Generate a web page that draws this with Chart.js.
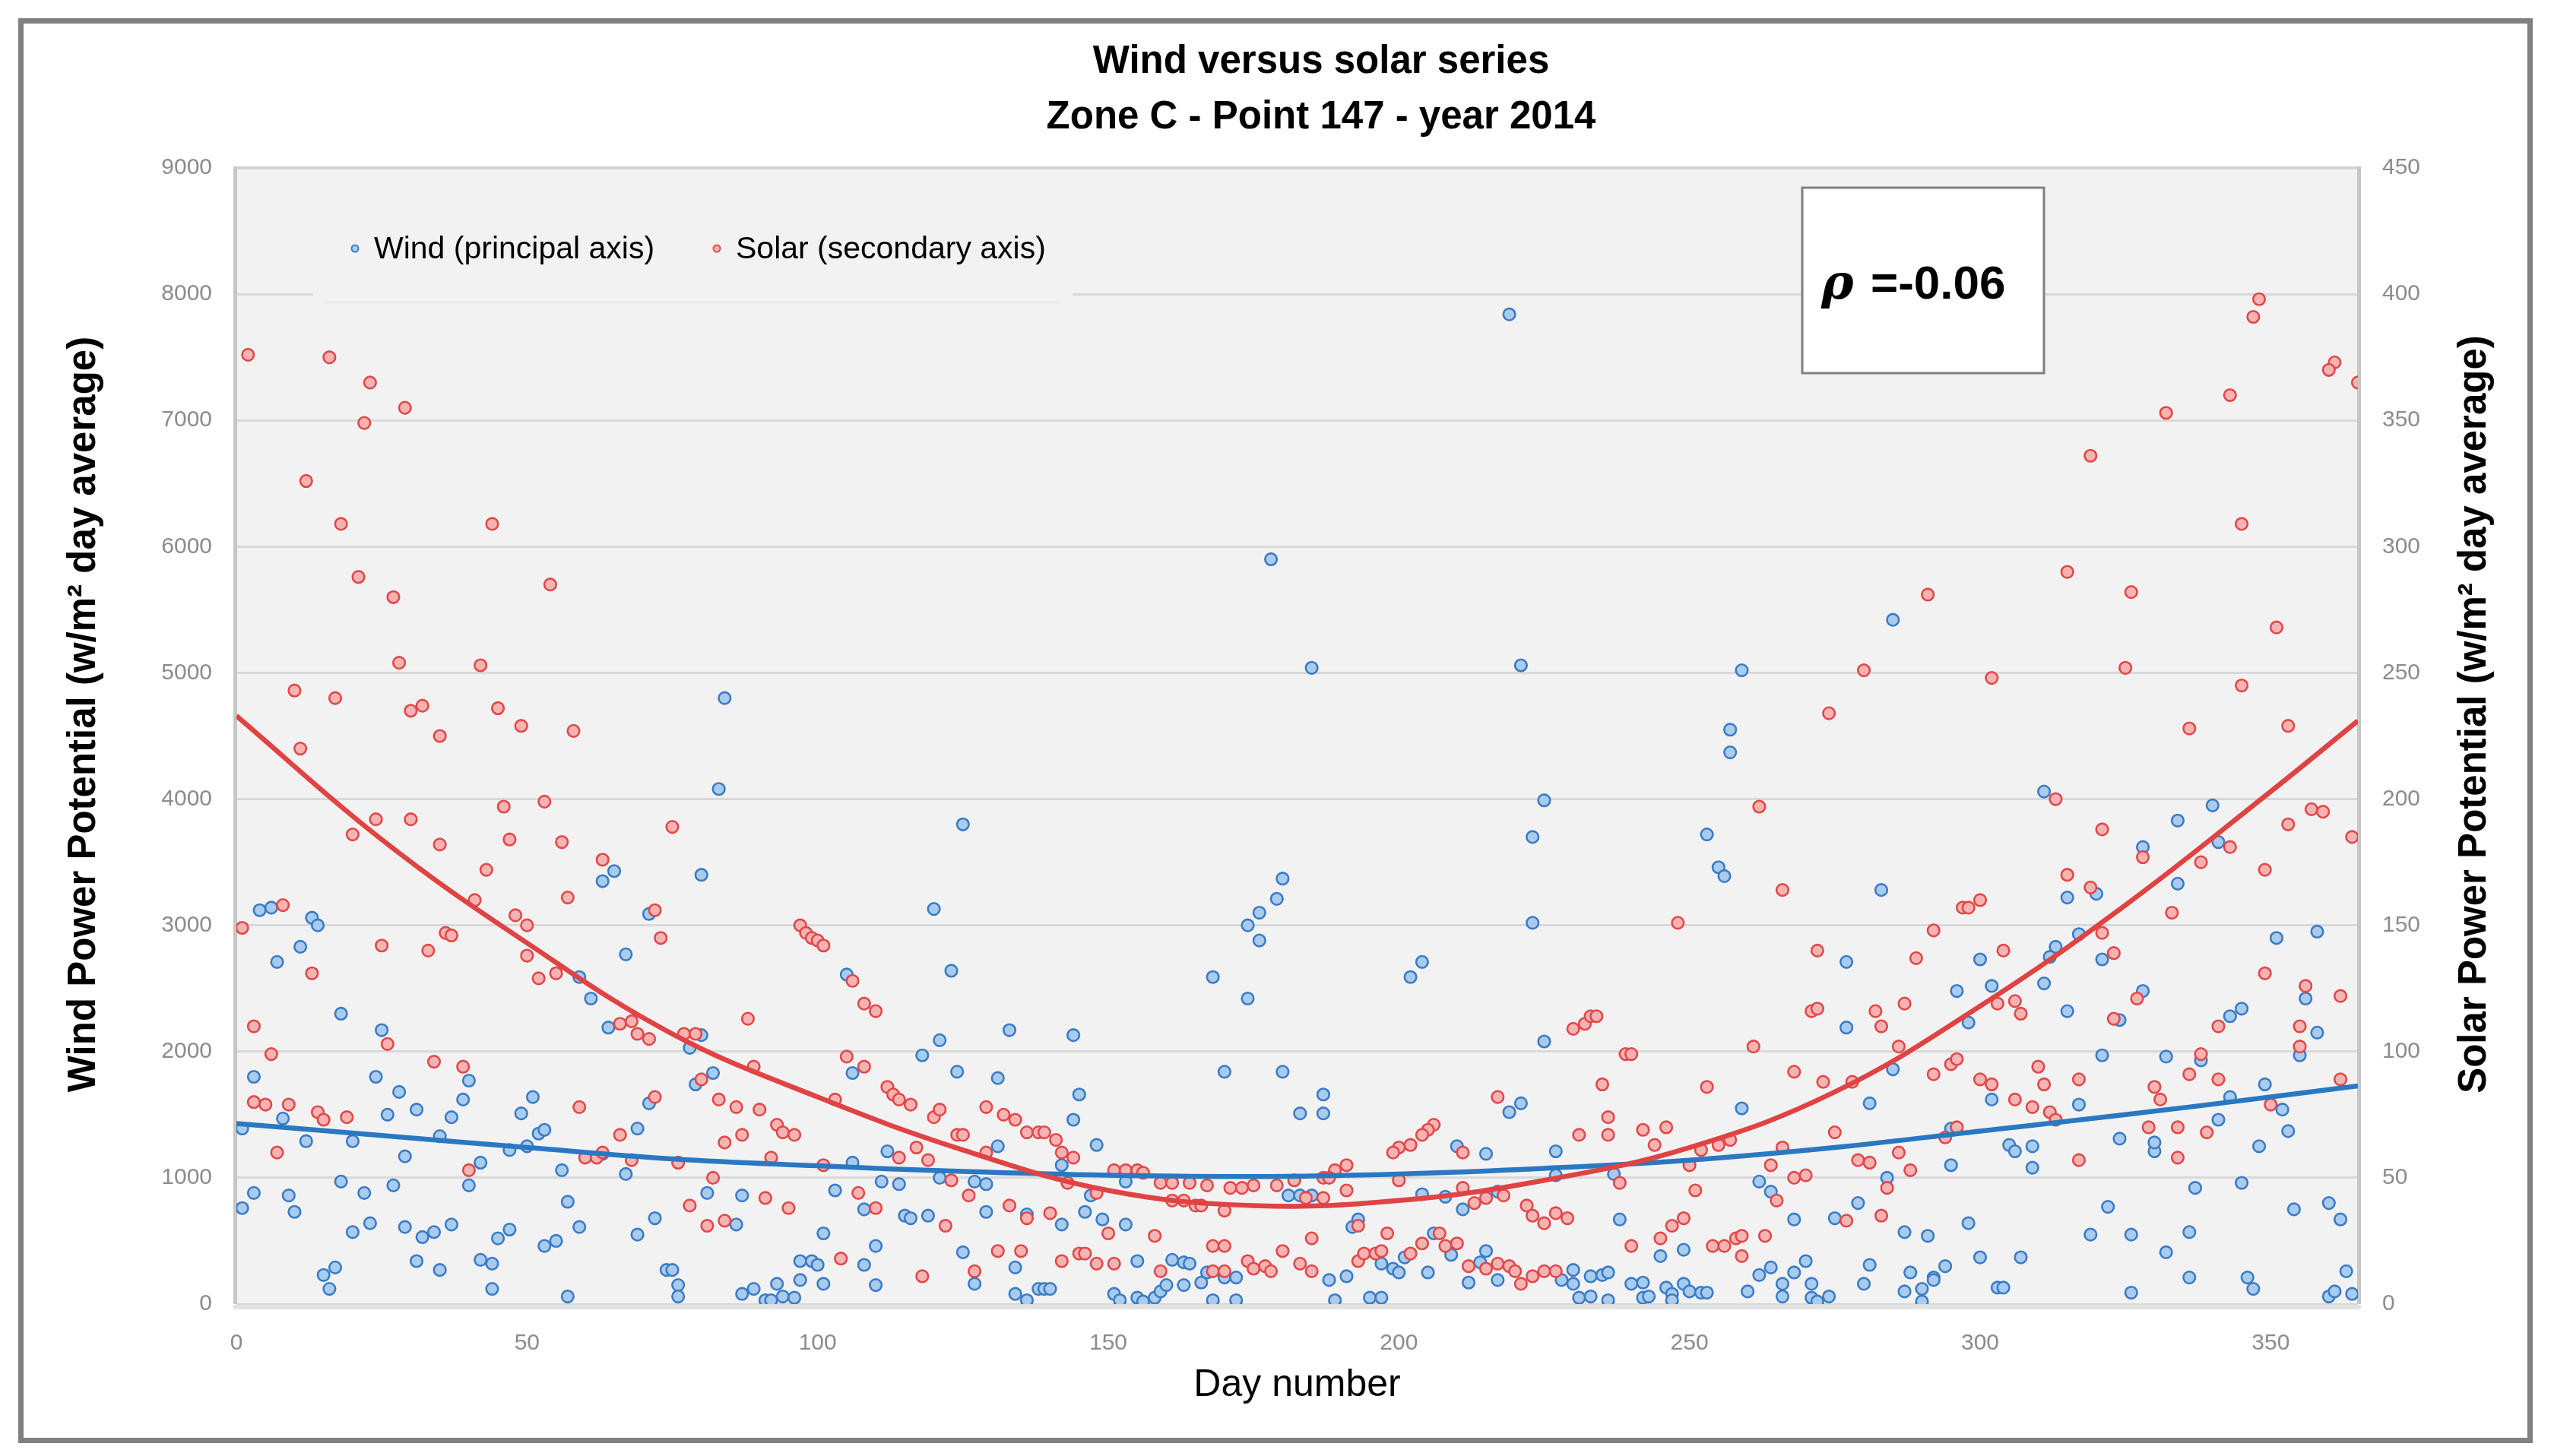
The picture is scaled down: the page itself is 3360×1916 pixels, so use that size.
<!DOCTYPE html>
<html>
<head>
<meta charset="utf-8">
<title>Wind versus solar series</title>
<script src="https://cdn.jsdelivr.net/npm/chart.js@4.4.1/dist/chart.umd.min.js"></script>
<style>
  html, body { margin: 0; padding: 0; background: #fff; }
  canvas { display: block; }
</style>
</head>
<body>
<canvas id="scatter" width="3360" height="1916"></canvas>
<script>
// values (day number, w/m2 day average)

const titleLines = ['Wind versus solar series', 'Zone C - Point 147 - year 2014'];
const windLabel = 'Wind (principal axis)';
const solarLabel = 'Solar (secondary axis)';
const rhoText = '=-0.06';

const windDays = [
    4,6,13,14,7,11,18,25,3,24, 28,40,39,51,49,31,37,26,8,1, 12,20,35,47,50,52,53,29,42,63,
    59,61,63,65,64,67,71,69,71,67, 56,40,18,27,3,1,9,10,22,57, 20,23,29,32,34,37,59,45,47,53,
    55,69,72,15,17,16,31,35,42,44, 44,57,
    84,83,125,80,120,123,105,80,78,79, 82,133,144,118,121,124,106,131,145,144,
    112,131,106,142,111,114,121,127,129,81, 87,103,108,86,115,116,119,129,136,142,
    146,101,110,125,74,75,76,76,87,89, 91,92,93,94,96,97,97,99,100,101,
    108,110,127,134,134,136,138,139,140,
    219,178,185,180,179,176,174,176,168,174, 204,202,170,180,183,187,187,148,210,215,
    219,153,147,149,153,181,183,185,204,208, 217,211,192,193,155,161,163,164,166,167,
    170,172,197,199,200,201,205,206,209,215, 214,212,217,151,152,155,156,158,159,160,
    163,168,172,188,189,191,195,197,
    221,225,223,223,259,257,257,285,253,255, 256,283,277,277,225,285,281,259,221,227,
    227,237,262,264,284,238,268,275,279,287, 291,245,249,228,230,230,231,233,233,235,
    236,236,240,242,242,243,246,247,247,249, 250,252,253,260,262,264,266,266,268,270,
    271,271,272,274,280,281,287,288,290,290, 292,
    311,340,334,328,341,334,315,320,317,313, 312,321,351,358,300,296,302,311,328,315,
    298,324,343,345,356,358,321,332,338,355, 302,317,343,349,352,353,341,295,305,306,
    309,309,295,324,330,330,348,337,345,354, 360,362,298,322,319,326,336,300,307,332,
    292,294,303,304,326,336,346,347,360,361, 363,364
];
const windPower = [
    3120,3140,3060,3000,2710,2830,2300,2170,1800,1800, 1680,1770,1620,1640,1510,1540,1480,1500,1470,1390,
    1290,1290,1330,1220,1250,1350,1380,1170,1120,1190, 2590,2420,3350,3430,2190,2770,3090,1390,1590,1030,
    1060,940,970,940,880,760,860,730,880,810, 570,640,610,530,570,630,610,520,590,460,
    500,550,680,230,290,120,340,270,350,320, 120,60,
    4800,4080,3800,3400,3130,2640,2610,2130,2030,1740, 1830,2170,2130,1970,2090,1840,1830,1790,1660,1460,
    1210,1250,1120,1100,970,950,1000,970,950,880, 860,900,750,630,700,680,700,730,710,630,
    730,560,460,410,270,270,150,60,80,120, 30,30,160,60,50,190,340,340,310,160,
    310,150,160,80,290,30,120,120,120,
    7840,5900,5040,3370,3210,3100,3000,2880,2590,2420, 2710,2590,1840,1840,1510,1660,1510,1260,1250,1190,
    1520,970,860,670,630,860,860,860,870,850, 890,750,610,670,340,350,330,320,170,250,
    210,210,320,280,250,370,250,560,390,420, 330,170,190,80,30,50,20,50,100,150,
    150,30,30,190,30,220,50,50,
    5060,3990,3700,3020,5020,4550,4370,5420,3720,3460, 3390,3280,2710,2190,2080,1860,1590,1550,1590,1210,
    1020,1030,970,890,1000,670,670,680,800,570, 540,380,430,190,160,270,50,60,220,230,
    250,30,160,50,170,60,130,80,30,160, 100,90,90,100,230,290,160,60,250,340,
    160,50,20,60,160,310,100,250,120,20, 210,
    4060,3950,3830,3620,3660,3330,3220,3250,2930,2830, 2750,2730,2900,2950,2730,2480,2520,2540,2480,2320,
    2230,2250,2280,2340,2420,2150,1970,1960,1930,1970, 1620,1580,1640,1740,1540,1370,1460,1390,1260,1210,
    1250,1080,1100,1310,1210,1280,1250,920,960,750, 800,670,640,770,550,550,570,370,370,410,
    190,300,130,130,90,210,210,120,60,100, 260,80
];

const solarDays = [
    2,16,23,22,29,12,18,21,27,44, 54,28,42,10,17,30,32,45,49,35, 58,11,24,30,20,35,46,53,47,56,
    43,41,63,57,48,50,50,52,55,72, 73,1,8,36,37,33,25,13,3,6, 26,66,68,69,71,34,39,3,5,9,
    14,15,19,59,72,7,40,60,62,63, 66,68,
    75,97,98,99,100,101,106,108,110,88, 77,79,89,80,105,108,83,86,90,93, 94,96,103,112,113,114,116,84,87,92,
    120,121,124,125,129,132,134,136,138,139, 141,142,144,143,76,82,78,81,84,91,
    95,101,107,110,114,117,119,123,126,129, 122,133,136,140,104,118,127,131,135,142, 145,
    217,206,205,204,202,200,199,211,191,189, 151,153,155,156,159,161,164,167,171,173,
    175,179,182,187,188,200,211,213,215,218, 148,161,163,165,166,170,184,187,191,150,
    158,168,170,180,185,193,198,146,148,151, 159,168,170,174,175,177,178,183,185,193,
    194,196,197,202,204,207,208,210,212,215, 217,219,
    291,280,274,262,266,248,272,292,289,271, 272,282,283,287,286,230,232,233,234,239,
    240,261,235,253,268,273,278,292,236,231, 236,242,244,246,252,255,257,266,275,279,
    281,286,288,284,238,250,251,264,265,268, 270,222,223,225,227,229,277,283,240,245,
    247,249,254,256,258,259,263,259,220,221, 223,225,227,
    348,347,361,360,365,343,332,319,345,315, 326,351,302,325,345,336,353,313,321,357,
    359,353,364,328,338,343,349,315,319,333, 297,298,300,304,321,323,349,362,356,327,
    323,303,306,307,341,355,355,295,296,300, 302,310,311,317,330,331,336,338,341,362,
    350,306,309,312,313,294,296,329,334,339, 317,334
];
const solarPower = [
    376,375,365,349,355,326,309,288,280,309, 285,254,253,243,240,235,237,236,229,225, 227,220,192,192,186,182,197,199,184,183,
    172,160,176,161,154,150,138,129,131,156, 145,149,158,147,146,140,142,131,110,99, 103,111,112,107,105,96,94,80,79,79,
    76,73,74,78,82,60,53,58,58,60, 67,57,
    189,150,147,145,144,142,128,119,116,113, 107,107,94,89,98,94,81,78,77,71, 68,67,81,86,83,81,79,64,67,58,
    74,77,67,67,78,75,73,68,68,68, 65,60,58,48,56,50,39,31,33,42,
    38,55,44,38,58,62,57,49,43,60, 31,39,34,36,18,11,13,21,21,17, 20,
    82,71,69,67,63,62,60,60,55,53, 53,53,53,52,48,48,48,47,46,46,
    47,47,49,50,50,49,46,40,42,43, 44,41,41,39,39,37,42,42,45,28,
    27,23,23,21,26,31,28,20,16,16, 13,13,13,17,14,15,13,16,13,17,
    20,20,21,20,24,28,23,24,15,14, 16,15,
    281,251,234,197,164,151,140,148,137,116, 117,116,110,119,102,109,111,114,114,99,
    99,102,87,86,92,88,88,91,74,67, 67,69,63,70,61,63,65,62,68,57,
    56,60,53,46,48,55,45,55,41,50, 51,39,35,32,36,34,33,35,23,26,
    31,34,23,23,26,27,27,19,13,8, 11,13,13,
    398,391,373,370,365,360,353,336,309,290, 282,268,248,252,245,228,229,200,188,196,
    195,190,185,177,175,181,172,170,165,155, 157,157,160,140,147,139,131,122,126,121,
    113,119,120,115,110,110,102,95,97,89, 87,94,87,89,86,81,91,99,89,89,
    79,81,78,76,73,66,70,70,70,68, 57,58
];

// polynomial trend lines as they appear in the picture
const trendDays  = [0, 25, 50, 75, 100, 125, 150, 175, 200, 225, 250, 275, 300, 325, 350, 365];
const windTrend  = [1430, 1335, 1240, 1150, 1095, 1050, 1020, 1010, 1030, 1075, 1140, 1240, 1370, 1500, 1640, 1728];
const solarTrend = [233, 184, 143, 107, 82, 61, 45, 39, 41, 49, 62, 84, 118, 158, 203, 231];

const FONT = "'Liberation Sans', Arial, sans-serif";
Chart.defaults.font.family = FONT;

const toPoints = (xs, ys) => xs.map((x, i) => ({ x: x, y: ys[i] }));
const plainNumber = (v) => String(v);

const decor = {
    id: 'decor',
    beforeDraw(chart) {
        const { ctx, chartArea: a, width, height } = chart;
        ctx.save();
        ctx.fillStyle = '#ffffff';
        ctx.fillRect(0, 0, width, height);
        ctx.fillStyle = '#f2f2f2';
        ctx.fillRect(a.left, a.top, a.right - a.left, a.bottom - a.top);
        ctx.restore();
    },
    beforeDatasetsDraw(chart) {
        const { ctx, chartArea: a } = chart;
        ctx.save();
        ctx.fillStyle = '#d2d2d2';
        ctx.fillRect(a.left, a.top - 2, a.right - a.left, 3);
        ctx.fillStyle = '#c6c6c6';
        ctx.fillRect(a.left - 4, a.top - 2, 5, a.bottom - a.top + 2);
        ctx.fillRect(a.right - 1, a.top - 2, 5, a.bottom - a.top + 2);
        ctx.fillStyle = '#e2e2e2';
        ctx.fillRect(a.left - 4, a.bottom + 1, a.right - a.left + 8, 6);
        ctx.restore();
    },
    afterDraw(chart) {
        const { ctx } = chart;
        ctx.save();

        // title
        ctx.fillStyle = '#000';
        ctx.textAlign = 'center';
        ctx.textBaseline = 'middle';
        ctx.font = 'bold 51px ' + FONT;
        ctx.fillText(titleLines[0], 1738, 82);
        ctx.fillText(titleLines[1], 1738, 155);

        // vertical axis titles, both read bottom to top
        ctx.font = 'bold 51px ' + FONT;
        [[111, chart.options.scales.y.titleText], [3256, chart.options.scales.y2.titleText]].forEach(([x, txt]) => {
            ctx.save();
            ctx.translate(x, 940);
            ctx.rotate(-Math.PI / 2);
            ctx.fillText(txt, 0, 0);
            ctx.restore();
        });

        // legend inside the plot
        ctx.fillStyle = '#f2f2f2';
        ctx.fillRect(412, 270, 999, 122);
        ctx.fillStyle = '#e8e8e8';
        ctx.fillRect(426, 397, 971, 2);
        const items = [[467, chart.data.datasets[3]], [943, chart.data.datasets[2]]];
        ctx.textAlign = 'left';
        ctx.font = '41px ' + FONT;
        items.forEach(([x, ds]) => {
            ctx.beginPath();
            ctx.arc(x, 327, 4.5, 0, Math.PI * 2);
            ctx.fillStyle = ds.backgroundColor;
            ctx.fill();
            ctx.lineWidth = 2;
            ctx.strokeStyle = ds.borderColor;
            ctx.stroke();
            ctx.fillStyle = '#000';
            ctx.fillText(ds.label, x + 25, 329);
        });

        // correlation box
        ctx.fillStyle = '#ffffff';
        ctx.fillRect(2371, 247, 318, 244);
        ctx.lineWidth = 3;
        ctx.strokeStyle = '#808080';
        ctx.strokeRect(2371, 247, 318, 244);
        ctx.fillStyle = '#000';
        ctx.textBaseline = 'alphabetic';
        ctx.font = "italic bold 64px 'DejaVu Serif', serif";
        ctx.fillText('\u03C1', 2396, 393);
        ctx.font = 'bold 62px ' + FONT;
        ctx.fillText(rhoText, 2461, 393);

        // outer frame
        ctx.lineWidth = 7;
        ctx.strokeStyle = '#808080';
        ctx.strokeRect(27.5, 27.5, 3301, 1868);
        ctx.restore();
    }
};

new Chart(document.getElementById('scatter').getContext('2d'), {
    type: 'scatter',
    data: {
        datasets: [{
            label: 'Solar trend',
            data: toPoints(trendDays, solarTrend),
            yAxisID: 'y2',
            showLine: true,
            pointRadius: 0,
            borderColor: '#e04343',
            borderWidth: 6.5,
            tension: 0.4,
            order: 0
        }, {
            label: 'Wind trend',
            data: toPoints(trendDays, windTrend),
            yAxisID: 'y',
            showLine: true,
            pointRadius: 0,
            borderColor: '#2a78c2',
            borderWidth: 6.5,
            tension: 0.4,
            order: 1
        }, {
            label: solarLabel,
            data: toPoints(solarDays, solarPower),
            yAxisID: 'y2',
            pointRadius: 7.8,
            borderWidth: 2.6,
            backgroundColor: '#f5b3b3',
            borderColor: '#e24848',
            order: 2
        }, {
            label: windLabel,
            data: toPoints(windDays, windPower),
            yAxisID: 'y',
            pointRadius: 7.8,
            borderWidth: 2.6,
            backgroundColor: '#a9cbee',
            borderColor: '#3a7cc6',
            order: 3
        }]
    },
    options: {
        responsive: false,
        animation: false,
        devicePixelRatio: 1,
        layout: {
            padding: { left: 85, right: 79, top: 221, bottom: 63 }
        },
        plugins: {
            legend: { display: false },
            tooltip: { enabled: false }
        },
        scales: {
            x: {
                type: 'linear',
                position: 'bottom',
                min: 0,
                max: 365,
                afterFit: (s) => { s.height = 137; },
                grid: { display: false },
                border: { display: false },
                ticks: {
                    stepSize: 50,
                    includeBounds: false,
                    padding: 26,
                    color: '#8c8c8c',
                    font: { size: 30 },
                    callback: plainNumber
                },
                title: {
                    display: true,
                    text: 'Day number',
                    color: '#000',
                    font: { size: 50 },
                    padding: 0
                }
            },
            y: {
                position: 'left',
                min: 0,
                max: 9000,
                titleText: 'Wind Power Potential (w/m\u00B2 day average)',
                afterFit: (s) => { s.width = 226; },
                grid: { color: '#d9d9d9', lineWidth: 3, drawTicks: false },
                border: { display: false },
                ticks: {
                    stepSize: 1000,
                    padding: 32,
                    color: '#8c8c8c',
                    font: { size: 30 },
                    callback: plainNumber
                }
            },
            y2: {
                position: 'right',
                min: 0,
                max: 450,
                titleText: 'Solar Power Potential (w/m\u00B2 day average)',
                afterFit: (s) => { s.width = 179; },
                grid: { display: false, drawTicks: false },
                border: { display: false },
                ticks: {
                    stepSize: 50,
                    padding: 32,
                    color: '#8c8c8c',
                    font: { size: 30 },
                    callback: plainNumber
                }
            }
        }
    },
    plugins: [decor]
});
</script>
</body>
</html>
